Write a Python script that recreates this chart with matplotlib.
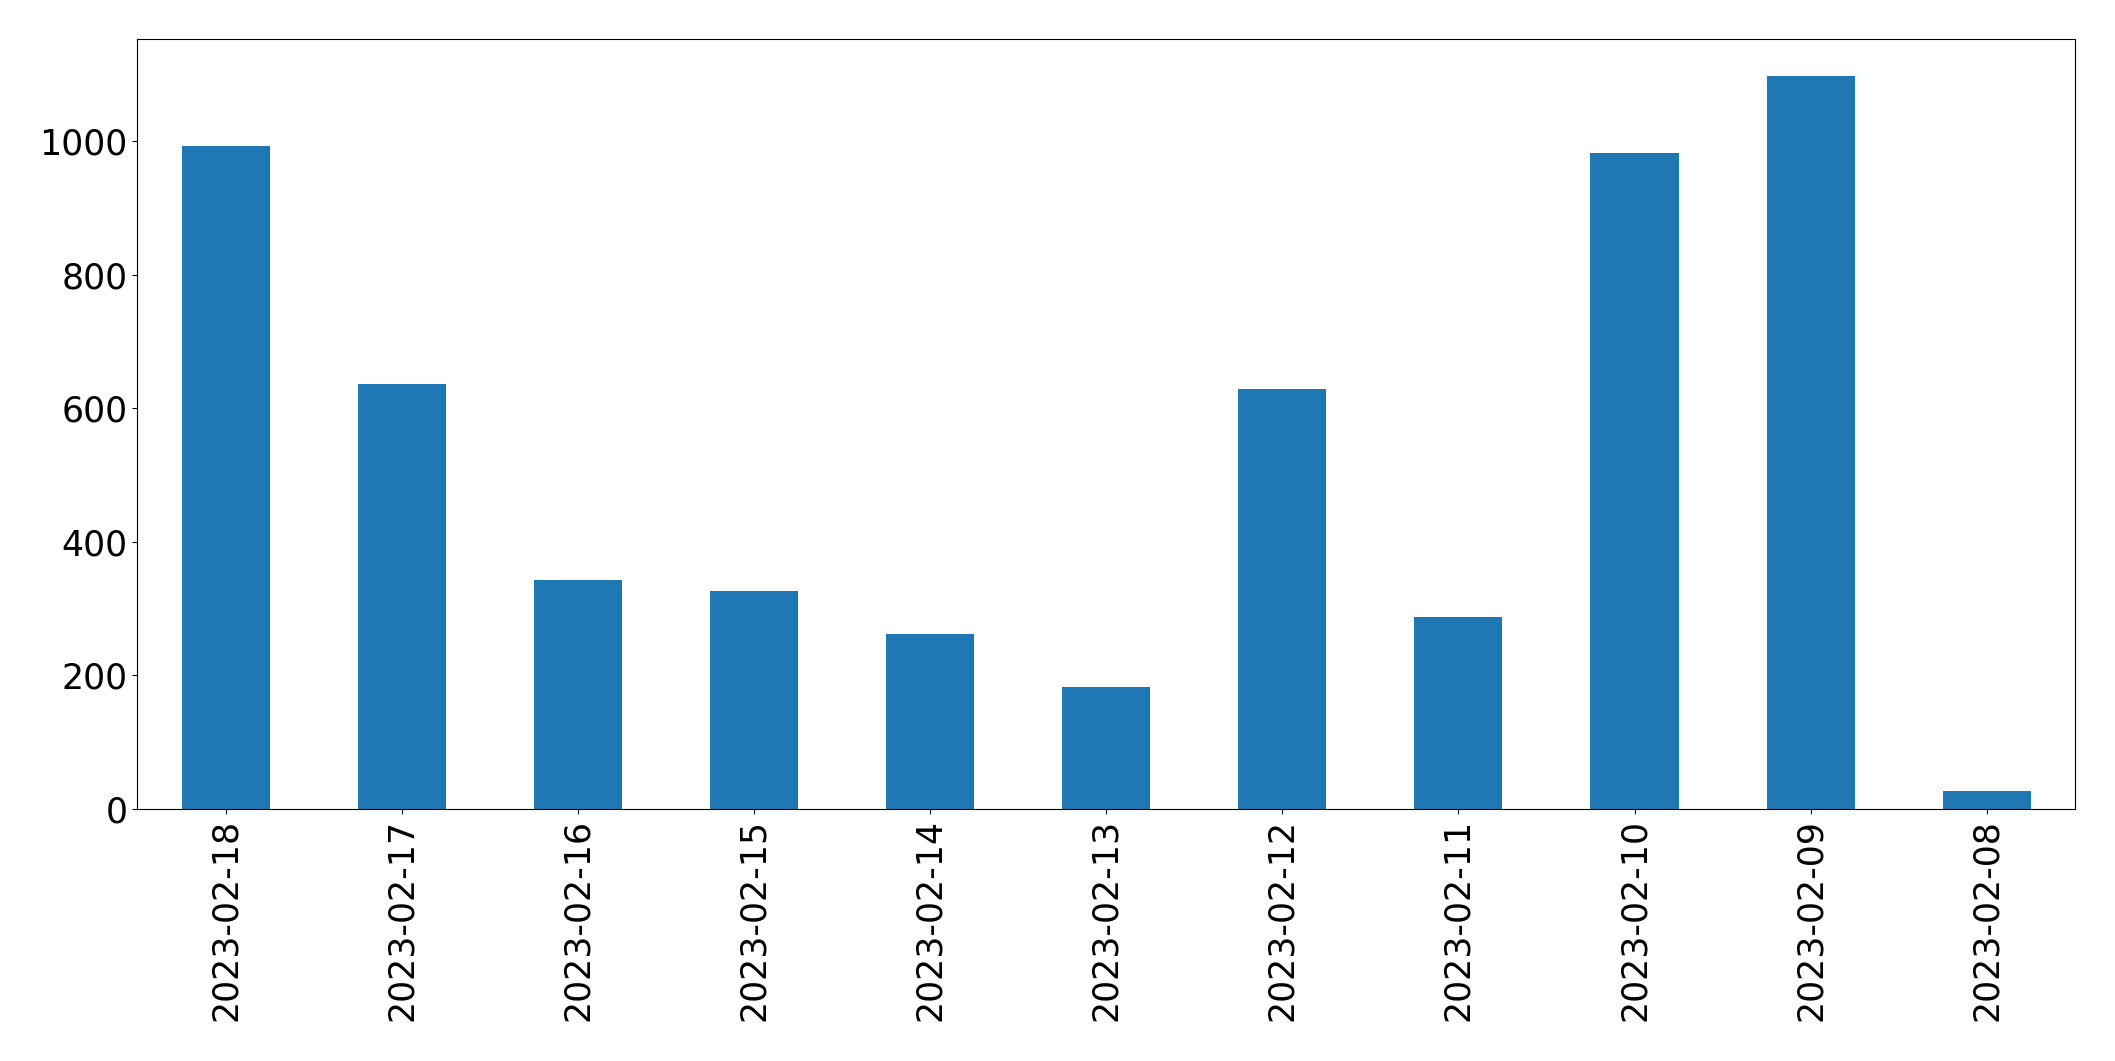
import pandas as pd
import matplotlib
matplotlib.use("Agg")
import matplotlib.pyplot as plt

dates = ['2023-02-18', '2023-02-17', '2023-02-16', '2023-02-15', '2023-02-14',
         '2023-02-13', '2023-02-12', '2023-02-11', '2023-02-10', '2023-02-09',
         '2023-02-08']
counts = [993, 636, 343, 326, 262, 183, 629, 287, 982, 1098, 27]

series = pd.Series(counts, index=dates)

fig, ax = plt.subplots(figsize=(21.15, 10.61), dpi=100)
series.plot(kind='bar', ax=ax, color='#1f77b4')
ax.tick_params(axis='both', labelsize=25)
plt.subplots_adjust(left=0.065, right=0.981, top=0.963, bottom=0.2375)
fig.savefig('out.png', dpi=100)
